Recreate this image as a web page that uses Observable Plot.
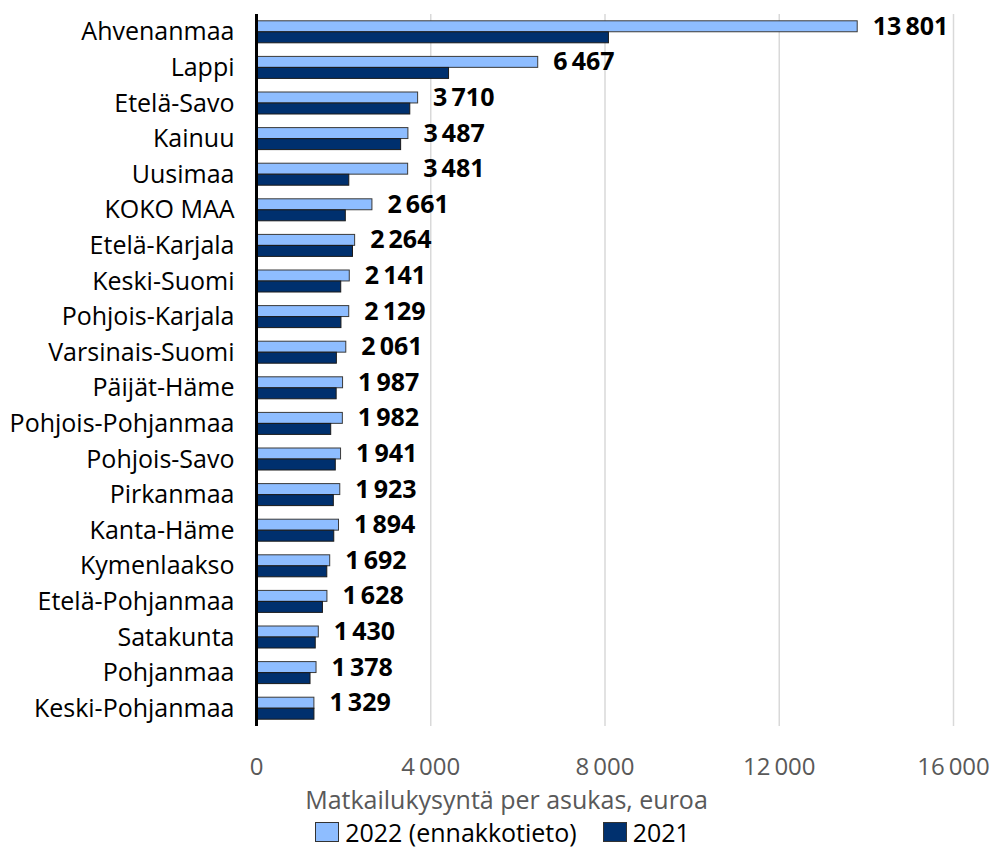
<!DOCTYPE html>
<html>
<head>
<meta charset="utf-8">
<script src="https://cdn.jsdelivr.net/npm/d3@7"></script>
<script src="https://cdn.jsdelivr.net/npm/@observablehq/plot@0.6"></script>
<style>
  html, body { margin: 0; padding: 0; background: #fff; }
  body { width: 995px; font-family: "Open Sans", sans-serif; }
  .xtitle { text-align: center; font-size: 25px; line-height: 30px; color: #595959; width: 995px; padding-left: 18px; box-sizing: border-box; height: 33px; }
  .legend { display: flex; justify-content: center; align-items: center; font-size: 25px; line-height: 30px; color: #000; padding-left: 10px; }
  .legend .item { display: flex; align-items: center; margin: 0 13px; }
  .legend .sw { width: 24px; height: 20px; border: 1.5px solid #333; margin-right: 6px; box-sizing: border-box; }
</style>
</head>
<body>
<div id="chart"></div>
<div class="xtitle" id="xtitle"></div>
<div class="legend" id="legend"></div>
<script>
const regions = ["Ahvenanmaa","Lappi","Etelä-Savo","Kainuu","Uusimaa","KOKO MAA","Etelä-Karjala","Keski-Suomi","Pohjois-Karjala","Varsinais-Suomi","Päijät-Häme","Pohjois-Pohjanmaa","Pohjois-Savo","Pirkanmaa","Kanta-Häme","Kymenlaakso","Etelä-Pohjanmaa","Satakunta","Pohjanmaa","Keski-Pohjanmaa"];
const values2022 = [13801,6467,3710,3487,3481,2661,2264,2141,2129,2061,1987,1982,1941,1923,1894,1692,1628,1430,1378,1329];
const values2021 = [8090,4420,3530,3320,2130,2050,2215,1945,1950,1845,1840,1715,1820,1775,1785,1625,1525,1360,1240,1330];
const seriesNames = ["2022 (ennakkotieto)", "2021"];
const seriesColors = ["#8ebdff", "#00306e"];
const xTicks = [0, 4000, 8000, 12000, 16000];
const xTitle = "Matkailukysyntä per asukas, euroa";

const fmt = v => d3.format(",")(v).replace(/,/g, "\u2009");
const rows2022 = regions.map((r, i) => ({region: r, value: values2022[i]}));
const rows2021 = regions.map((r, i) => ({region: r, value: values2021[i]}));

const chart = Plot.plot({
  width: 995,
  height: 784,
  marginTop: 14,
  marginBottom: 58,
  marginLeft: 256,
  marginRight: 42,
  style: {fontFamily: "Open Sans", background: "#fff"},
  x: {domain: [0, 16000]},
  y: {domain: regions, padding: 0, round: false},
  marks: [
    Plot.ruleX(xTicks.slice(1), {stroke: "#d9d9d9", strokeWidth: 1.5}),
    Plot.barX(rows2022, {y: "region", x: "value", fill: seriesColors[0], stroke: "#3a3a3a", strokeWidth: 1, insetTop: 6.8, insetBottom: 17.85}),
    Plot.barX(rows2021, {y: "region", x: "value", fill: seriesColors[1], stroke: "#1a1a1a", strokeWidth: 1, insetTop: 17.85, insetBottom: 6.8}),
    Plot.ruleX([0], {stroke: "#000", strokeWidth: 3}),
    Plot.text(rows2022, {y: "region", x: "value", text: d => fmt(d.value), dx: 15, dy: -5.5, textAnchor: "start", fontSize: 25, fontWeight: "bold", fill: "#000"}),
    Plot.axisY({tickSize: 0, tickPadding: 22, fontSize: 25, fill: "#000", label: null}),
    Plot.axisX({ticks: xTicks, tickFormat: fmt, tickSize: 0, tickPadding: 31, fontSize: 24, fill: "#595959", label: null})
  ]
});
document.getElementById("chart").append(chart);
document.getElementById("xtitle").textContent = xTitle;
const legend = document.getElementById("legend");
seriesNames.forEach((name, i) => {
  const item = document.createElement("div");
  item.className = "item";
  const sw = document.createElement("span");
  sw.className = "sw";
  sw.style.background = seriesColors[i];
  const label = document.createElement("span");
  label.textContent = name;
  item.append(sw, label);
  legend.append(item);
});
</script>
</body>
</html>
